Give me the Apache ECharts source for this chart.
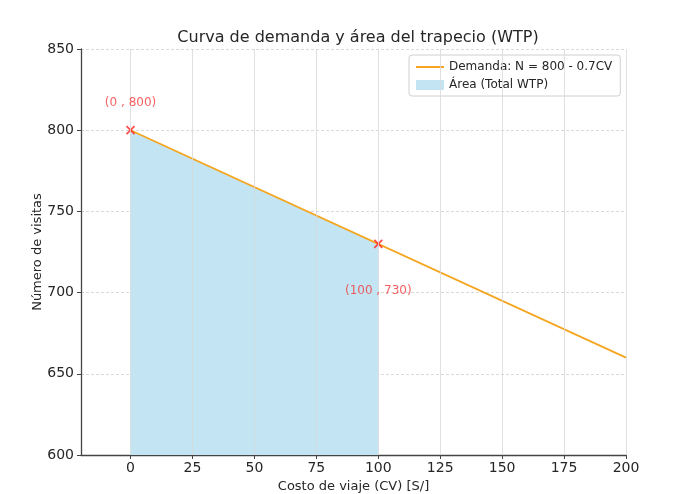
<!DOCTYPE html>
<html>
<head>
<meta charset="utf-8">
<script src="https://cdn.jsdelivr.net/npm/echarts@6/dist/echarts.min.js"></script>
<style>html,body{margin:0;padding:0;background:#fff;overflow:hidden;}#c{width:697px;height:494px;}</style>
</head>
<body>
<div id="c"></div>
<script>
// Data
const demandX = [0, 200];
const demandY = [800, 660];
const areaX = [0, 100];
const areaY = [800, 730];
const pointX = [0, 100];
const pointY = [800, 730];
const annotX = [0, 100];
const annotY = [817, 701];
const annotText = ['(0 , 800)', '(100 , 730)'];
const xTicks = [0, 25, 50, 75, 100, 125, 150, 175, 200];
const yTicks = [600, 650, 700, 750, 800, 850];

const FONT = 'DejaVu Sans';
const chart = echarts.init(document.getElementById('c'), null, {renderer: 'canvas'});
const xPath = 'path://M0,0 L10,10 M10,0 L0,10';

chart.setOption({
  animation: false,
  backgroundColor: '#fff',
  textStyle: {fontFamily: FONT},
  title: {
    text: 'Curva de demanda y área del trapecio (WTP)',
    left: 353, top: 25, textAlign: 'center',
    textStyle: {fontFamily: FONT, fontSize: 16, fontWeight: 'normal', color: '#262626'}
  },
  grid: {left: 81, right: 71, top: 49, bottom: 39, containLabel: false, outerBoundsMode: 'none'},
  legend: {
    left: 409, top: 55, orient: 'vertical',
    backgroundColor: '#fff', borderColor: '#d0d0d0', borderWidth: 1, borderRadius: 3,
    padding: [6, 8, 5, 6], itemGap: 6, itemWidth: 28, itemHeight: 10,
    textStyle: {fontFamily: FONT, fontSize: 12, color: '#262626'},
    data: [
      {name: 'Demanda: N = 800 - 0.7CV', itemStyle: {opacity: 0}},
      {name: 'Área (Total WTP)', icon: 'rect'}
    ]
  },
  xAxis: {
    type: 'value', min: -20, max: 200,
    name: 'Costo de viaje (CV) [S/]', nameLocation: 'middle', nameGap: 25, nameMoveOverlap: false,
    nameTextStyle: {fontFamily: FONT, fontSize: 13, color: '#262626'},
    axisLine: {show: true, onZero: false, lineStyle: {color: '#444', width: 1.3}},
    axisTick: {show: true, length: 4, lineStyle: {color: '#444'}, customValues: xTicks},
    axisLabel: {fontFamily: FONT, fontSize: 14, color: '#262626', margin: 6, customValues: xTicks},
    splitLine: {show: false}
  },
  yAxis: {
    type: 'value', min: 600, max: 850, interval: 50,
    name: 'Número de visitas', nameLocation: 'middle', nameGap: 37, nameMoveOverlap: false,
    nameTextStyle: {fontFamily: FONT, fontSize: 13, color: '#262626'},
    axisLine: {show: true, onZero: false, lineStyle: {color: '#444', width: 1.3}},
    axisTick: {show: true, length: 4, lineStyle: {color: '#444'}},
    axisLabel: {fontFamily: FONT, fontSize: 14, color: '#262626', margin: 7},
    splitLine: {show: true, lineStyle: {color: '#d0d0d0', type: [3, 2], width: 0.8}}
  },
  series: [
    {
      name: 'Área (Total WTP)', type: 'line', z: 1,
      data: areaX.map((x, i) => [x, areaY[i]]),
      symbol: 'none', color: '#c3e5f3',
      itemStyle: {color: '#c3e5f3'},
      lineStyle: {width: 0, opacity: 0},
      areaStyle: {color: '#c3e5f3', opacity: 1}
    },
    {
      name: 'gridx', type: 'line', data: [], z: 2, silent: true,
      markLine: {
        silent: true, symbol: 'none', label: {show: false},
        lineStyle: {color: '#d8d8d8', type: 'solid', width: 0.8},
        data: xTicks.map(v => ({xAxis: v}))
      }
    },
    {
      name: 'Demanda: N = 800 - 0.7CV', type: 'line', z: 3,
      data: demandX.map((x, i) => [x, demandY[i]]),
      symbol: 'none', color: '#f5a51e',
      lineStyle: {color: '#f5a51e', width: 1.8}
    },
    {
      name: 'points', type: 'scatter', z: 4,
      data: pointX.map((x, i) => [x, pointY[i]]),
      symbol: xPath, symbolSize: 8,
      itemStyle: {color: 'none', borderColor: '#ff2020', borderWidth: 1.8}
    },
    {
      name: 'annot', type: 'scatter', z: 5,
      data: annotX.map((x, i) => ({value: [x, annotY[i]], name: annotText[i]})),
      symbolSize: 0,
      label: {
        show: true, position: 'inside', formatter: p => p.name,
        fontFamily: FONT, fontSize: 12, color: '#f23a3a'
      }
    }
  ]
});
</script>
</body>
</html>
